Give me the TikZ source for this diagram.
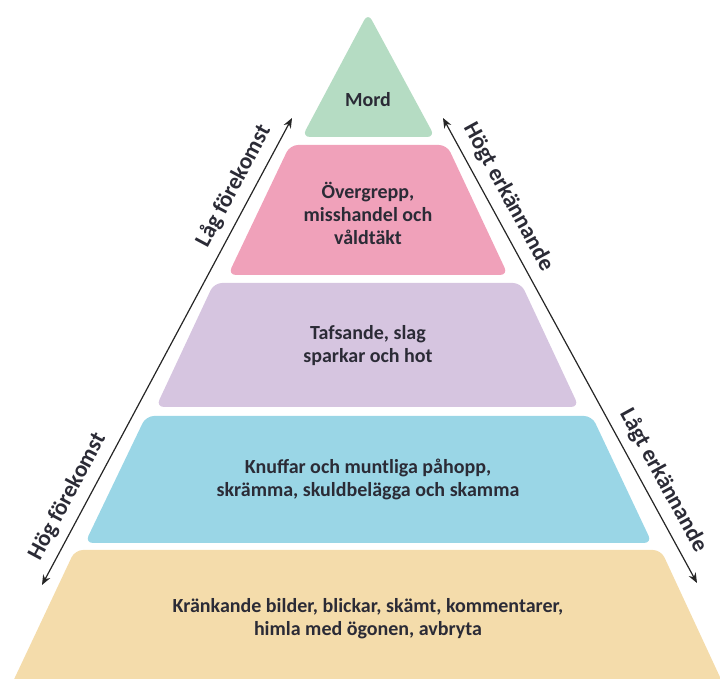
\documentclass[tikz,border=0pt]{standalone}
\usepackage{fontspec}
\setmainfont{Carlito}
\usepackage{tikz}
\usetikzlibrary{arrows.meta}
\usepackage{xcolor}

\definecolor{mordgreen}{HTML}{B5DCC3}
\definecolor{abusepink}{HTML}{F0A1BA}
\definecolor{hitlilac}{HTML}{D6C5E0}
\definecolor{pushblue}{HTML}{9AD6E6}
\definecolor{insultsand}{HTML}{F4DCAB}
\definecolor{inktext}{HTML}{2B2B36}

\begin{document}
\begin{tikzpicture}[
    x=0.5pt, y=-0.5pt,
    layer/.style={rounded corners=4pt},
    label/.style={font=\bfseries\fontsize{10}{11.5}\selectfont, text=inktext, align=center},
    axis/.style={{Stealth[length=5pt,width=4pt]}-{Stealth[length=5pt,width=4pt]}, semithick, black!85},
    side/.style={font=\bfseries\fontsize{11.5}{13}\selectfont, text=inktext, sloped, above=1pt}
]
    \useasboundingbox (0,0) rectangle (720,679);

    % Pyramid layers, top to bottom
    \fill[layer, mordgreen] (368,13) -- (435,137) -- (302,137) -- cycle;
    \fill[layer, abusepink] (290,145) -- (447,145) -- (508,275) -- (228,275) -- cycle;
    \fill[layer, hitlilac] (214,283) -- (521,283) -- (579,407) -- (156,407) -- cycle;
    \fill[layer, pushblue] (146,416) -- (592,416) -- (652,543) -- (85,543) -- cycle;
    \fill[layer, insultsand] (75,550) -- (661,550) -- (726,690) -- (9,690) -- cycle;

    % Texts in the layers
    \node[label] (mord) at (368,100) {Mord};
    \node[label] (abuse) at (368,213) {Övergrepp,\\misshandel och\\våldtäkt};
    \node[label] (hits) at (368,346) {Tafsande, slag\\sparkar och hot};
    \node[label] (pushes) at (368,479) {Knuffar och muntliga påhopp,\\skrämma, skuldbelägga och skamma};
    \node[label] (insults) at (368,619) {Kränkande bilder, blickar, skämt, kommentarer,\\himla med ögonen, avbryta};

    % Side arrows
    \coordinate (occlow) at (42,585);
    \coordinate (occhigh) at (292,118);
    \coordinate (ackhigh) at (443,118);
    \coordinate (acklow) at (697,583);

    \draw[axis] (occlow) -- node[side, pos=0.17] (hogfor) {Hög förekomst}
        node[side, pos=0.835] (lagfor) {Låg förekomst} (occhigh);
    \draw[axis] (ackhigh) -- node[side, pos=0.19] (hogerk) {Högt erkännande}
        node[side, pos=0.80] (lagerk) {Lågt erkännande} (acklow);
\end{tikzpicture}
\end{document}
